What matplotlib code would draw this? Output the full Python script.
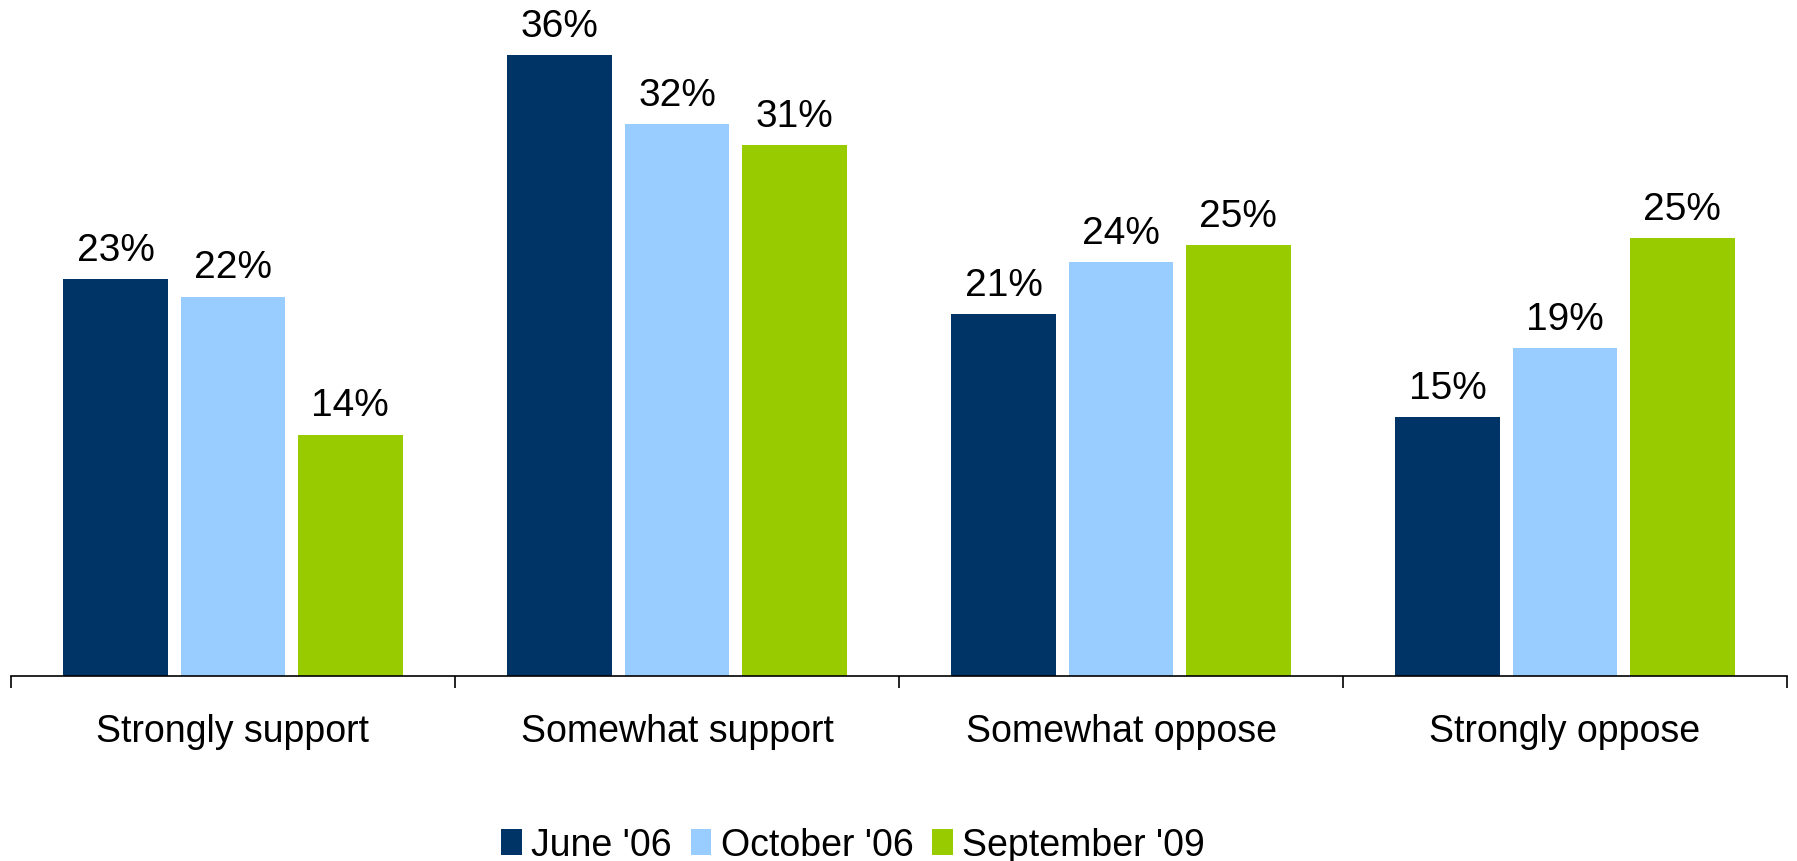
import matplotlib
matplotlib.use("Agg")
import matplotlib.pyplot as plt
import numpy as np

# datos (alturas estimadas; etiquetas redondeadas)
categories = ["Strongly support", "Somewhat support", "Somewhat oppose", "Strongly oppose"]
series_names = ["June '06", "October '06", "September '09"]
june_06 = [23, 36, 21, 15]
october_06 = [22, 32, 24, 19]
september_09 = [14, 30.8, 25, 25.4]
june_06_labels = ["23%", "36%", "21%", "15%"]
october_06_labels = ["22%", "32%", "24%", "19%"]
september_09_labels = ["14%", "31%", "25%", "25%"]

colors = ["#003366", "#99CCFF", "#99CC00"]

plt.rcParams["font.family"] = ["Liberation Sans", "DejaVu Sans"]

fig = plt.figure(figsize=(17.97, 8.62), dpi=100)
ax = fig.add_axes([11 / 1797, (862 - 677) / 862, (1787 - 11) / 1797, 677 / 862])

x = np.arange(len(categories))
width = 0.236
step = 0.264
series = [(june_06, june_06_labels), (october_06, october_06_labels),
          (september_09, september_09_labels)]
for k, ((vals, labs), name, col) in enumerate(zip(series, series_names, colors)):
    xs = x + (k - 1) * step
    ax.bar(xs, vals, width=width, color=col, label=name)
    for xi, v, lab in zip(xs, vals, labs):
        ax.annotate(lab, (xi, v), xytext=(0, 8), textcoords="offset points",
                    ha="center", va="bottom", fontsize=28)

ax.set_xlim(-0.5, len(categories) - 0.5)
ax.set_ylim(0, 39.25)
for s in ["top", "right", "left"]:
    ax.spines[s].set_visible(False)
ax.spines["bottom"].set_linewidth(1.2)
ax.set_yticks([])
ax.set_xticks(np.arange(len(categories) + 1) - 0.5)
ax.set_xticklabels([])
ax.tick_params(axis="x", direction="out", length=8.6, width=1.2)
for i, c in enumerate(categories):
    ax.text(i, -3.2, c, ha="center", va="center", fontsize=27)

fig.legend(loc="center", bbox_to_anchor=(853 / 1797, 1 - 846 / 862), ncol=3, frameon=False,
           fontsize=27, handlelength=0.55, handleheight=0.7, handletextpad=0.25,
           columnspacing=0.5, borderpad=0)

fig.savefig("out.png", dpi=100)
